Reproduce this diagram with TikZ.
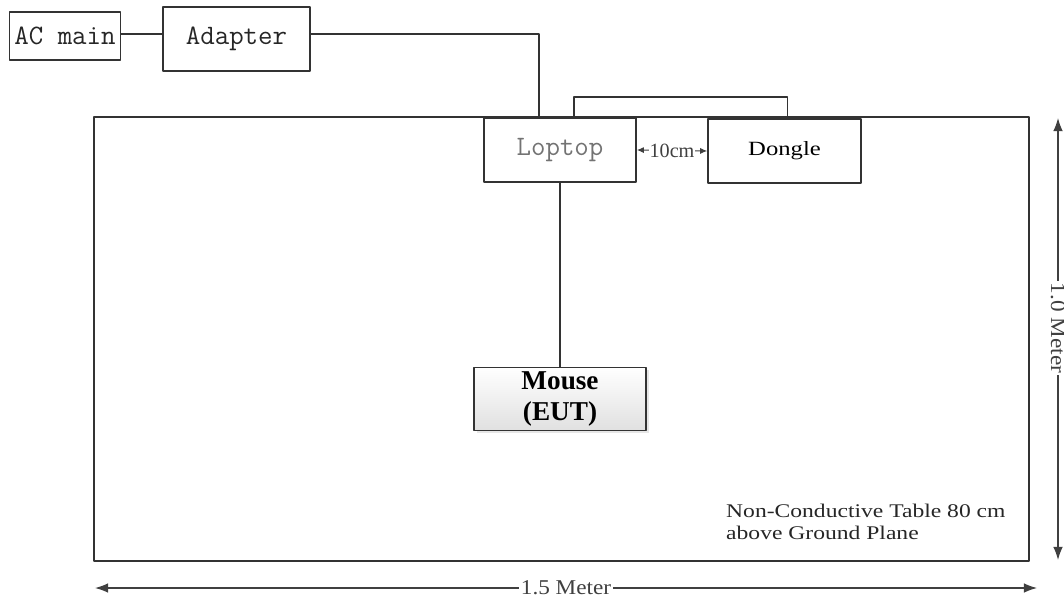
\documentclass[tikz,border=0pt]{standalone}
\usepackage{fontspec}
\setmainfont{Liberation Serif}
\usetikzlibrary{arrows.meta,calc,shadows}
\newcommand{\hstr}[2][1.22]{\scalebox{#1}[1]{#2}}
\begin{document}
\begin{tikzpicture}[x=0.02cm,y=-0.02cm,line join=round,
	box/.style={draw=black!80,line width=1pt,inner sep=0pt,minimum height=1.28cm},
	mono/.style={font=\fontsize{16}{18}\selectfont\ttfamily,text=black!85},
	dim/.style={line width=0.7pt,black!75,{Latex[length=7.5pt,width=5.5pt]}-{Latex[length=7.5pt,width=5.5pt]}},
	lbl/.style={font=\fontsize{12}{14}\selectfont,fill=white,inner sep=1pt}]
\useasboundingbox (0,0) rectangle (1064,598);
% table
\draw[line width=1.5pt,black!80] (94,117) rectangle (1029,561);
\node[anchor=north west,align=left,font=\fontsize{11}{13.7}\selectfont,text=black!85] (note) at (720,494)
	{\hstr{\begin{tabular}{@{}l@{}}Non-Conductive Table 80 cm\\[-1pt]above Ground Plane\end{tabular}}};
% boxes
\node[box,mono,minimum width=2.22cm,minimum height=0.96cm] (acmain) at (65,36) {AC main};
\node[box,mono,minimum width=2.94cm] (adapter) at (236.5,39) {Adapter};
\node[box,mono,text=black!55,minimum width=3.04cm,fill=white] (laptop) at (560,150) {Loptop};
\node[box,minimum width=3.06cm,fill=white,font=\fontsize{11.5}{13}\selectfont] (dongle) at (784.5,151) {\hstr{Dongle}};
\node[box,minimum width=3.44cm,minimum height=1.26cm,align=center,
	top color=white,bottom color=black!12,drop shadow={opacity=0.2,shadow xshift=1.5pt,shadow yshift=-1.5pt},
	font=\fontsize{15.5}{17.5}\selectfont\bfseries] (mouse) at (560,399) {Mouse\\(EUT)};
% cables
\coordinate (adpin) at ($(laptop.north west)!0.362!(laptop.north east)$);
\coordinate (lk1) at ($(laptop.north west)!0.59!(laptop.north east)$);
\coordinate (lk2) at ($(dongle.north west)!0.52!(dongle.north east)$);
\draw[line width=1pt,black!80] (acmain.east) ++(0,-2) coordinate (acout) -- (acout -| adapter.west);
\draw[line width=1pt,black!80] (acout -| adapter.east) -| (adpin);
\draw[line width=1pt,black!80] (lk1) -- ++(0,-20) -| (lk2);
\draw[line width=1pt,black!80] (laptop.south) -- (mouse.north);
\draw[line width=0.6pt,black!75,{Latex[length=4pt,width=3.5pt]}-{Latex[length=4pt,width=3.5pt]}] (laptop.east) -- (dongle.west)
	node[midway,fill=white,inner sep=0.3pt,font=\fontsize{11.5}{13}\selectfont] (gap) {10cm};
% dimensions
\coordinate (vtop) at (1058,118);
\coordinate (vbot) at (1058,560);
\coordinate (hl) at (95,588);
\coordinate (hr) at (1037,588);
\draw[dim] (vtop) -- (vbot) node[lbl,pos=0.475,rotate=-90] (vlen) {\hstr[1.1]{1.0 Meter}};
\draw[dim] (hl) -- (hr) node[lbl,midway] (hlen) {\hstr[1.1]{1.5 Meter}};
\end{tikzpicture}
\end{document}
